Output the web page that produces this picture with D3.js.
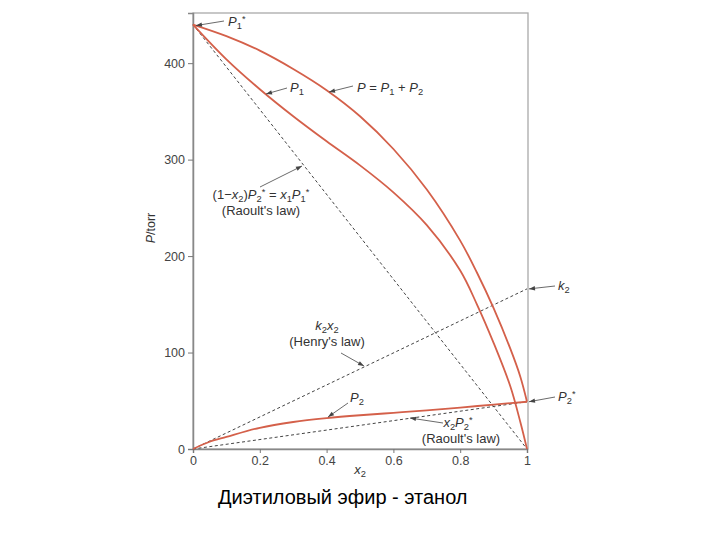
<!DOCTYPE html>
<html><head><meta charset="utf-8">
<script src="https://cdn.jsdelivr.net/npm/d3@7"></script>
<style>
body{margin:0;background:#fff;}
text{font-family:"Liberation Sans",Arial,Helvetica,sans-serif;}
</style></head>
<body><svg id="c" width="720" height="540"></svg>
<script>
// ---- data ----
const P1star = 440;   // vapour pressure of pure diethyl ether (torr)
const P2star = 49;    // vapour pressure of pure ethanol (torr)
const k2 = 166;       // Henry's constant
const x2Grid  = [0, 0.1, 0.2, 0.3, 0.4, 0.5, 0.6, 0.7, 0.8, 0.85, 0.9, 0.95, 0.98, 1];
const P1vals  = [440, 404, 373, 345, 319, 294, 266, 232, 185, 150, 110, 65, 28, 0];
const Ptotal  = [440, 428, 413, 394, 372, 345, 311, 269, 216, 183, 146, 104, 75, 49];
const x2GridB = [0, 0.05, 0.1, 0.2, 0.3, 0.4, 0.5, 0.6, 0.7, 0.8, 0.9, 1];
const P2vals  = [0, 7.5, 12.5, 22, 28, 32, 35, 37.5, 40, 43, 46, 49];
const xTicks = [0, 0.2, 0.4, 0.6, 0.8, 1];
const xTickLabels = ["0", "0.2", "0.4", "0.6", "0.8", "1"];
const yTicks = [0, 100, 200, 300, 400];
const title = "Диэтиловый эфир - этанол";

// ---- layout ----
const svg = d3.select("#c");
const x = d3.scaleLinear().domain([0, 1]).range([193, 527]);
const y = d3.scaleLinear().domain([0, 452]).range([449, 13]);
const red = "#d4604a", dash = "#444", txt = "#333";

// frame
svg.append("rect").attr("x", 193).attr("y", y(452)).attr("width", 335).attr("height", y(0) - y(452))
  .attr("fill", "none").attr("stroke", "#aaa").attr("stroke-width", 1.3);

// axes
const gx = svg.append("g").attr("transform", `translate(0,${y(0)})`)
  .call(d3.axisBottom(x).tickValues(xTicks).tickFormat((d, i) => xTickLabels[i]).tickSize(4).tickPadding(3));
const gy = svg.append("g").attr("transform", `translate(${x(0)},0)`)
  .call(d3.axisLeft(y).tickValues(yTicks).tickSize(5).tickPadding(3));
[gx, gy].forEach(g => {
  g.select(".domain").attr("stroke", "#888").attr("stroke-width", 1.5);
  g.selectAll(".tick line").attr("stroke", "#777");
  g.selectAll(".tick text").attr("fill", "#444").attr("font-size", 12.5);
});

// reference (dashed) lines
const line = d3.line().x(d => x(d[0])).y(d => y(d[1]));
const refs = [
  [[0, P1star], [1, 0]],
  [[0, 0], [1, k2]],
  [[0, 0], [1, P2star]]
];
svg.selectAll(".ref").data(refs).join("path").attr("class", "ref")
  .attr("d", line).attr("fill", "none").attr("stroke", dash).attr("stroke-width", 1)
  .attr("stroke-dasharray", "3,2.5");

// curves
const curve = d3.line().x(d => x(d[0])).y(d => y(d[1])).curve(d3.curveCatmullRom.alpha(0.5));
const series = [
  x2Grid.map((v, i) => [v, P1vals[i]]),
  x2Grid.map((v, i) => [v, Ptotal[i]]),
  x2GridB.map((v, i) => [v, P2vals[i]])
];
svg.selectAll(".cur").data(series).join("path").attr("class", "cur")
  .attr("d", curve).attr("fill", "none").attr("stroke", red).attr("stroke-width", 1.8);

// text helper with sub/superscripts
function rich(px, py, segs, anchor, size) {
  const t = svg.append("text").attr("x", px).attr("y", py).attr("fill", txt)
    .attr("font-size", size || 13).attr("text-anchor", anchor || "start");
  let cur = 0;
  segs.forEach(s => {
    const shift = s.sub ? 2.5 : s.sup ? -4 : 0;
    const ts = t.append("tspan").text(s.t).attr("dy", shift - cur);
    cur = shift;
    if (s.sub || s.sup) ts.attr("font-size", "0.72em");
    if (s.i) ts.attr("font-style", "italic");
  });
  return t;
}
function arrow(x1, y1, x2, y2) {
  svg.append("line").attr("x1", x1).attr("y1", y1).attr("x2", x2).attr("y2", y2)
    .attr("stroke", "#444").attr("stroke-width", 0.8);
  const a = Math.atan2(y2 - y1, x2 - x1), L = 6, W = 2.2;
  const bx = x2 - L * Math.cos(a), by = y2 - L * Math.sin(a);
  svg.append("path").attr("d",
    `M${x2},${y2}L${bx + W * Math.sin(a)},${by - W * Math.cos(a)}L${bx - W * Math.sin(a)},${by + W * Math.cos(a)}Z`)
    .attr("fill", "#444");
}

// annotations
rich(228, 26, [{t: "P", i: 1}, {t: "1", sub: 1}, {t: "*", sup: 1}]);
arrow(224, 21, x(0) + 3, y(P1star) + 1);

rich(290, 92, [{t: "P", i: 1}, {t: "1", sub: 1}]);
arrow(287, 88, 266, 94);

rich(357, 92, [{t: "P", i: 1}, {t: " = "}, {t: "P", i: 1}, {t: "1", sub: 1}, {t: " + "}, {t: "P", i: 1}, {t: "2", sub: 1}]);
arrow(353, 86, 329, 92);

rich(261, 199, [{t: "(1−"}, {t: "x", i: 1}, {t: "2", sub: 1}, {t: ")"}, {t: "P", i: 1}, {t: "2", sub: 1}, {t: "*", sup: 1},
  {t: " = "}, {t: "x", i: 1}, {t: "1", sub: 1}, {t: "P", i: 1}, {t: "1", sub: 1}, {t: "*", sup: 1}], "middle");
rich(261, 215, [{t: "(Raoult's law)"}], "middle");
arrow(260, 187, 302, 166);

rich(327, 330, [{t: "k", i: 1}, {t: "2", sub: 1}, {t: "x", i: 1}, {t: "2", sub: 1}], "middle");
rich(327, 346, [{t: "(Henry's law)"}], "middle");
arrow(341, 353, 364, 366);

rich(558, 290, [{t: "k", i: 1}, {t: "2", sub: 1}]);
arrow(555, 286, x(1) + 2, y(k2));

rich(558, 401, [{t: "P", i: 1}, {t: "2", sub: 1}, {t: "*", sup: 1}]);
arrow(555, 397, x(1) + 2, y(P2star));

rich(350, 402, [{t: "P", i: 1}, {t: "2", sub: 1}]);
arrow(348, 403, 328, 417);

rich(458, 427, [{t: "x", i: 1}, {t: "2", sub: 1}, {t: "P", i: 1}, {t: "2", sub: 1}, {t: "*", sup: 1}], "middle");
rich(461, 443, [{t: "(Raoult's law)"}], "middle");
arrow(443, 423, 410, 418);

// axis titles
svg.append("text").attr("transform", "translate(155,228) rotate(-90)").attr("text-anchor", "middle")
  .attr("font-size", 12.5).attr("fill", txt)
  .call(t => { t.append("tspan").attr("font-style", "italic").text("P"); t.append("tspan").text("/torr"); });
rich(360, 474, [{t: "x", i: 1}, {t: "2", sub: 1}], "middle");

// title
svg.append("text").attr("x", 218).attr("y", 504).attr("font-size", 20).attr("fill", "#000").text(title);
</script></body></html>
